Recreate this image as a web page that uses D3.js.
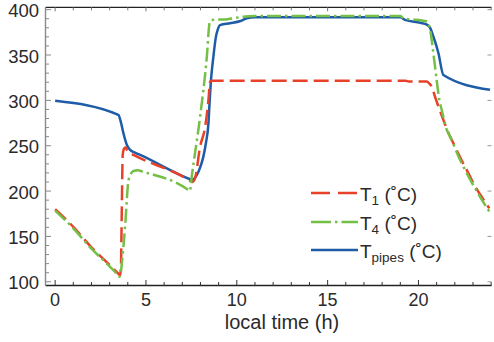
<!DOCTYPE html>
<html>
<head>
<meta charset="utf-8">
<script src="https://cdn.jsdelivr.net/npm/d3@7"></script>
<style>
  html, body { margin: 0; padding: 0; background: #fff; }
  svg { display: block; font-family: "Liberation Sans", Arial, Helvetica, sans-serif; }
</style>
</head>
<body>
<svg id="chart" width="494" height="342"></svg>
<script>
// Local time (h) and temperatures (°C)
const t1Hours = [0, 1, 2, 3, 3.5, 3.57, 3.62, 3.67, 3.72, 3.8, 3.87, 3.95, 4.15, 4.31, 7.43, 7.55, 7.7, 7.98, 8.26, 8.44, 8.53, 8.65, 19.3, 19.45, 20.45, 20.6, 20.73, 20.91, 21.1, 21.37, 21.65, 21.83, 22.3, 22.84, 23.02, 23.5, 23.9];
const t1Values = [180, 160.5, 138, 118.5, 108.5, 107, 115, 180, 240, 247, 248, 245.5, 241.5, 239.8, 211.5, 210, 214, 249, 271, 300.5, 320.5, 321.5, 321.5, 320.8, 320.8, 318.5, 315, 304, 293, 278.5, 264, 256.5, 237, 216, 208.6, 193, 181];

const t4Hours = [0, 1, 2, 3, 3.45, 3.53, 3.6, 3.67, 3.85, 4.04, 4.2, 4.35, 4.55, 4.8, 7.34, 7.42, 7.52, 7.98, 8.35, 8.5, 8.6, 9.5, 10.46, 11, 19.0, 19.17, 20.46, 20.64, 20.82, 21.0, 21.15, 21.28, 21.56, 21.74, 22.3, 22.84, 23.5, 23.9];
const t4Values = [178.5, 159, 136.5, 117, 107.5, 105.5, 108, 120, 160.7, 212, 220, 222.5, 223, 221.5, 201.2, 200, 216, 282, 348, 385, 388.5, 389.5, 392.5, 393, 393, 390.7, 387, 378, 352, 322.6, 300.5, 289.5, 267.4, 260, 234, 213, 190, 177.5];

const pipeHours = [0, 3.48, 3.62, 3.76, 3.95, 4.13, 4.4, 4.68, 7.43, 7.52, 7.65, 7.8, 8.0, 8.16, 8.3, 8.44, 8.5, 8.57, 8.71, 8.85, 8.95, 9.08, 9.63, 10.2, 10.55, 11, 19.0, 19.26, 20.1, 20.46, 20.64, 20.82, 21.1, 21.37, 23.94];
const pipeValues = [299.5, 284, 276, 263.8, 250.9, 245.4, 242.3, 239.8, 213, 212.3, 213.5, 217.8, 227, 238, 253, 275, 297, 320, 348, 370, 378, 383, 385, 387.5, 390.5, 391.5, 391.5, 388.8, 385.5, 383.5, 380, 370.4, 352, 328, 311.6];

const xTickValues = [0, 5, 10, 15, 20];
const yTickValues = [100, 150, 200, 250, 300, 350, 400];
const xLabel = "local time (h)";

const seriesNames = ["T1", "T4", "Tpipes"];

const svg = d3.select("#chart");

const x = d3.scaleLinear().domain([-0.53, 24.02]).range([45.5, 491.5]);
const y = d3.scaleLinear().domain([95.9, 402.6]).range([285.5, 7.3]);

const [x0, x1] = x.range();
const [yb, yt] = y.range();

const styles = {
  T1: { color: "#e8412a", dash: "15,6", legendDash: "19,8" },
  T4: { color: "#74bf45", dash: "14,4,2.5,4", legendDash: "20,4,2.5,4" },
  Tpipes: { color: "#1f5ca8", dash: null, legendDash: null }
};

// frame: top and bottom in black, left in gray
svg.append("line").attr("x1", x0).attr("x2", x1).attr("y1", yt).attr("y2", yt)
  .attr("stroke", "#222").attr("stroke-width", 1.2);
svg.append("line").attr("x1", x0).attr("x2", x1).attr("y1", yb).attr("y2", yb)
  .attr("stroke", "#222").attr("stroke-width", 1.4);
svg.append("line").attr("x1", x0).attr("x2", x0).attr("y1", yt).attr("y2", yb)
  .attr("stroke", "#8a8a8a").attr("stroke-width", 1.4);

const ticks = svg.append("g").attr("stroke-width", 1);

// bottom and top ticks, every hour
d3.range(0, 25, 1).forEach(h => {
  const major = h % 5 === 0;
  const px = x(h);
  ticks.append("line").attr("x1", px).attr("x2", px)
    .attr("y1", yb).attr("y2", yb - (major ? 5.5 : 3.5)).attr("stroke", "#333");
  ticks.append("line").attr("x1", px).attr("x2", px)
    .attr("y1", yt).attr("y2", yt + (major ? 4 : 3)).attr("stroke", "#777");
});

// left ticks every 10, right ticks on the labelled values
d3.range(100, 401, 10).forEach(v => {
  const major = v % 50 === 0;
  const py = y(v);
  ticks.append("line").attr("x1", x0).attr("x2", x0 + (major ? 5.5 : 3.5))
    .attr("y1", py).attr("y2", py).attr("stroke", "#888");
  if (major) {
    ticks.append("line").attr("x1", x1).attr("x2", x1 - 4)
      .attr("y1", py).attr("y2", py).attr("stroke", "#999");
  }
});

// tick labels
svg.append("g").selectAll("text").data(xTickValues).join("text")
  .attr("x", d => x(d)).attr("y", 306)
  .attr("text-anchor", "middle")
  .attr("font-size", 18).attr("fill", "#2a2a2a")
  .text(d => d);

svg.append("g").selectAll("text").data(yTickValues).join("text")
  .attr("x", 39).attr("y", d => y(d) + 7.5)
  .attr("text-anchor", "end")
  .attr("font-size", 18.5).attr("fill", "#2a2a2a")
  .text(d => d);

svg.append("text").attr("x", 282).attr("y", 329)
  .attr("text-anchor", "middle").attr("font-size", 20).attr("fill", "#2a2a2a")
  .text(xLabel);

// curves
const line = d3.line().x(d => x(d[0])).y(d => y(d[1])).curve(d3.curveMonotoneX);
const data = {
  T1: t1Hours.map((h, i) => [h, t1Values[i]]),
  T4: t4Hours.map((h, i) => [h, t4Values[i]]),
  Tpipes: pipeHours.map((h, i) => [h, pipeValues[i]])
};

const plot = svg.append("g");
["Tpipes", "T1", "T4"].forEach(name => {
  plot.append("path").datum(data[name])
    .attr("d", line)
    .attr("fill", "none")
    .attr("stroke", styles[name].color)
    .attr("stroke-width", 2.5)
    .attr("stroke-linejoin", "round")
    .attr("stroke-dasharray", styles[name].dash);
});

// legend
const legend = svg.append("g");
const legendRows = [
  { name: "T1", sub: "1", y: 193 },
  { name: "T4", sub: "4", y: 222 },
  { name: "Tpipes", sub: "pipes", y: 250 }
];
legendRows.forEach(r => {
  legend.append("line").attr("x1", 311).attr("x2", 358)
    .attr("y1", r.y).attr("y2", r.y)
    .attr("stroke", styles[r.name].color).attr("stroke-width", 2.5)
    .attr("stroke-dasharray", styles[r.name].legendDash);
  const txt = legend.append("text").attr("x", 360).attr("y", r.y + 7.5)
    .attr("font-size", 19).attr("fill", "#2a2a2a");
  txt.append("tspan").text("T");
  txt.append("tspan").attr("font-size", 13.5).attr("dy", 4).text(r.sub);
  txt.append("tspan").attr("dy", -4).text(" (\u02DAC)");
});
</script>
</body>
</html>
